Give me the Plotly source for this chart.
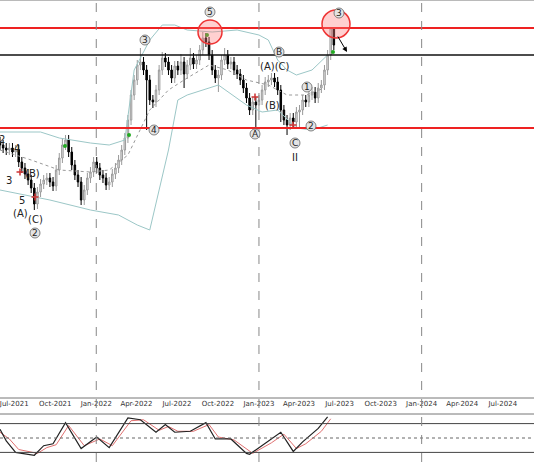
import datetime as dt
import plotly.graph_objects as go

# weekly closes (price units), week 0 = 2021-05-30
closes = [255, 252, 250, 252, 248, 250, 238, 232, 226, 220, 212, 196, 208, 216, 220, 222,
          218, 214, 230, 242, 255, 260, 248, 235, 225, 218, 200, 210, 222, 228, 238, 232,
          225, 222, 215, 218, 226, 232, 240, 250, 262, 280, 305, 320, 335, 338, 330, 320,
          300, 298, 310, 330, 342, 338, 330, 322, 334, 330, 338, 326, 335, 342, 336, 340,
          350, 362, 358, 345, 330, 322, 325, 340, 345, 336, 338, 330, 326, 320, 312, 302,
          290, 298, 295, 300, 310, 318, 320, 322, 318, 310, 290, 280, 275, 282, 278, 288,
          290, 300, 298, 305, 308, 302, 312, 315, 330, 345, 372, 355]
first_open = 258
# notable extremes (week -> value)
high_ext = {45: 352, 65: 368, 20: 262, 106: 372, 107: 372, 52: 348, 58: 346, 61: 352, 72: 352}
low_ext = {11: 190, 26: 195, 47: 270, 82: 272, 92: 265, 96: 272, 49: 292, 90: 278, 59: 312, 70: 308}

# bollinger / ma (week, price)
ma_w = [0, 10, 19, 29, 35, 41, 48, 54, 60, 67, 73, 79, 86, 92, 98, 104]
ma_p = [250, 240, 230, 228, 230, 245, 290, 310, 322, 335, 330, 320, 315, 305, 305, 312]
up_w = [0, 13, 19, 29, 35, 40, 43, 48, 52, 56, 60, 68, 76, 83, 86, 89, 92, 95, 100, 105]
up_p = [268, 268, 262, 257, 255, 260, 330, 360, 375, 375, 370, 368, 370, 365, 360, 340, 330, 325, 330, 345]
lo_w = [0, 16, 29, 38, 44, 48, 54, 57, 60, 70, 79, 84, 89, 95, 100, 105]
lo_p = [210, 200, 190, 185, 175, 170, 250, 300, 305, 315, 295, 288, 290, 272, 270, 275]

# stochastic (week, value)
k_w = [0, 2, 5, 11, 14, 17, 21, 26, 31, 35, 41, 45, 50, 53, 56, 61, 66, 69, 74, 79, 80, 86, 90, 94, 97, 102, 105]
k_v = [68, 44, 20, 14, 34, 38, 82, 28, 52, 30, 92, 88, 62, 78, 62, 64, 82, 48, 48, 18, 16, 44, 62, 22, 42, 70, 94]
d_w = [0, 3, 6, 12, 15, 18, 22, 27, 32, 36, 42, 46, 51, 54, 57, 62, 67, 70, 75, 80, 81, 87, 91, 95, 98, 103, 106]
d_v = [62, 48, 26, 18, 30, 36, 76, 34, 48, 34, 86, 88, 66, 74, 64, 64, 78, 52, 46, 22, 18, 40, 58, 28, 38, 64, 90]

BASE = dt.datetime(2021, 5, 30)
PX = 3.12  # px per week


def wd(w):
    return BASE + dt.timedelta(days=7 * w)


def xd(px):
    return wd(px / PX)


dates = [wd(i) for i in range(len(closes))]
opens = [first_open] + closes[:-1]
highs = [high_ext.get(i, max(o, c) + 5) for i, (o, c) in enumerate(zip(opens, closes))]
lows = [low_ext.get(i, min(o, c) - 5) for i, (o, c) in enumerate(zip(opens, closes))]

fig = go.Figure()
fig.add_trace(go.Scatter(x=[wd(w) for w in up_w], y=up_p, mode='lines', line=dict(color='#9cc7c7', width=1), hoverinfo='skip'))
fig.add_trace(go.Scatter(x=[wd(w) for w in lo_w], y=lo_p, mode='lines', line=dict(color='#9cc7c7', width=1), hoverinfo='skip'))
fig.add_trace(go.Scatter(x=[wd(w) for w in ma_w], y=ma_p, mode='lines', line=dict(color='#999999', width=1, dash='dot'), hoverinfo='skip'))
fig.add_trace(go.Candlestick(x=dates, open=opens, high=highs, low=lows, close=closes,
    increasing=dict(fillcolor='#e6e6e6', line=dict(color='#9a9a9a', width=1)),
    decreasing=dict(fillcolor='#000000', line=dict(color='#000000', width=1)),
    whiskerwidth=0, hoverinfo='skip'))

# markers
fig.add_trace(go.Scatter(x=[xd(65), xd(129), xd(207), xd(333)], y=[254, 265, 365, 348], mode='markers',
    marker=dict(color='#22aa22', size=4), hoverinfo='skip'))
fig.add_trace(go.Scatter(x=[xd(20), xd(35), xd(255), xd(293)], y=[228, 203, 303, 275], mode='markers',
    marker=dict(color='#cc3333', size=5, symbol='cross-thin', line=dict(color='#cc3333', width=1.5)), hoverinfo='skip'))

# stochastic
fig.add_trace(go.Scatter(x=[wd(w) for w in d_w], y=d_v, mode='lines', line=dict(color='#e07070', width=1), xaxis='x2', yaxis='y2', hoverinfo='skip'))
fig.add_trace(go.Scatter(x=[wd(w) for w in k_w], y=k_v, mode='lines', line=dict(color='#222222', width=1.2), xaxis='x2', yaxis='y2', hoverinfo='skip'))

shapes = []
for y, c, w in [(372, '#ee2222', 2), (272, '#ee2222', 2), (345, '#111111', 1.5)]:
    shapes.append(dict(type='line', xref='paper', yref='y', x0=0, x1=1, y0=y, y1=y, line=dict(color=c, width=w)))
for y in [80, 20]:
    shapes.append(dict(type='line', xref='paper', yref='y2', x0=0, x1=1, y0=y, y1=y, line=dict(color='#444', width=1)))
shapes.append(dict(type='line', xref='paper', yref='y2', x0=0, x1=1, y0=50, y1=50, line=dict(color='#666', width=1, dash='dot')))
for d in ['2022-01-01', '2023-01-01', '2024-01-01']:
    shapes.append(dict(type='line', xref='x', yref='paper', x0=d, x1=d, y0=0, y1=1, line=dict(color='#888', width=1, dash='dash')))
for yy in [1 - 398 / 462, 1 - 414 / 462]:
    shapes.append(dict(type='line', xref='paper', yref='paper', x0=0, x1=1, y0=yy, y1=yy, line=dict(color='#777', width=1)))
shapes.append(dict(type='line', xref='paper', yref='paper', x0=0, x1=1, y0=1, y1=1, line=dict(color='#777', width=1)))
for cx, cy, r in [(210, 32, 12), (336, 24, 14)]:
    shapes.append(dict(type='circle', xref='x', yref='y', x0=xd(cx - r), x1=xd(cx + r), y0=400 - cy - r, y1=400 - cy + r,
                       fillcolor='rgba(255,120,120,0.35)', line=dict(color='#ee3333', width=1.5)))

circled = [('5', 210, 12), ('3', 145, 40), ('4', 154, 130), ('A', 255, 134), ('B', 279, 52), ('C', 295, 143),
           ('1', 307, 87), ('2', 311, 126), ('3', 339, 13), ('2', 35, 233)]
for t, cx, cy in circled:
    shapes.append(dict(type='circle', xref='x', yref='y', x0=xd(cx - 5), x1=xd(cx + 5), y0=400 - cy - 5, y1=400 - cy + 5,
                       fillcolor='#e4e4e4', line=dict(color='#666', width=0.8)))

ann = [dict(x=xd(cx), y=400 - cy, text=t, showarrow=False, font=dict(size=9, color='#222')) for t, cx, cy in circled]
plain = [('(A)(C)', 275, 66), ('(B)', 272, 105), ('II', 295, 157), ('2', 2, 139), ('4', 17, 148),
         ('3', 9, 180), ('(B)', 32, 173), ('5', 22, 200), ('(A)', 20, 213), ('(C)', 35, 219)]
ann += [dict(x=xd(cx), y=400 - cy, text=t, showarrow=False, font=dict(size=10, color='#222')) for t, cx, cy in plain]
ann.append(dict(x=xd(210), y=401, text='I', showarrow=False, yanchor='top', font=dict(size=5, color='#222')))
ann.append(dict(x=xd(347), y=400 - 52, ax=xd(337), ay=400 - 35, xref='x', yref='y', axref='x', ayref='y',
                text='', showarrow=True, arrowhead=2, arrowsize=1, arrowwidth=1, arrowcolor='#000'))

fig.update_layout(
    width=534, height=462, margin=dict(l=0, r=0, t=0, b=0, autoexpand=False),
    paper_bgcolor='white', plot_bgcolor='white', showlegend=False,
    font=dict(family='DejaVu Sans'),
    xaxis=dict(range=[xd(0), xd(534)], domain=[0, 1], anchor='y', rangeslider=dict(visible=False),
               showgrid=False, tickformat='%b-%Y', dtick='M3', tick0='2021-07-01', ticks='', automargin=False,
               tickfont=dict(size=7, color='#333'), ticklabelstandoff=0, ticklabeloverflow='allow'),
    yaxis=dict(range=[2, 400], domain=[1 - 398 / 462, 1], visible=False),
    xaxis2=dict(range=[xd(0), xd(534)], domain=[0, 1], anchor='y2', visible=False),
    yaxis2=dict(range=[0, 100], domain=[0, 1 - 414 / 462], visible=False),
    shapes=shapes, annotations=ann,
)
fig.write_html("out.html", config={'displayModeBar': False},
               post_script="document.body.style.margin='0';document.body.style.overflow='hidden';")
